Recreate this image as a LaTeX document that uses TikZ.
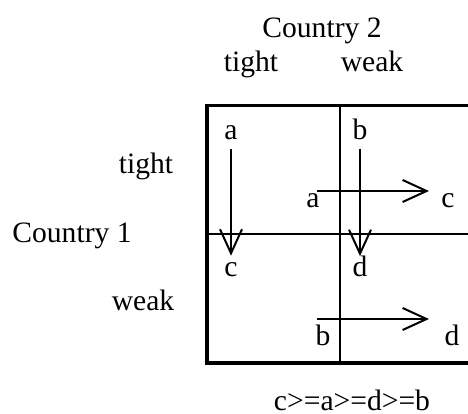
\documentclass[tikz,border=0pt]{standalone}
\usepackage{fontspec}
\setmainfont{Liberation Serif}
\usetikzlibrary{arrows.meta,positioning}
\tikzset{
  cell/.style       = {draw, line width=1pt, minimum height=64pt, inner sep=0pt},
  frame/.style      = {draw, line width=1.5pt},
  move/.style       = {-{Straight Barb[length=12pt, width=11pt]}, line width=1pt},
  lbl/.style        = {inner sep=0pt, anchor=base},
  every node/.style = {font=\fontsize{14.8}{17}\selectfont},
}
\begin{document}
\begin{tikzpicture}[x=0.5pt, y=-0.5pt]
  \useasboundingbox (0,0) rectangle (468,414);
  % payoff cells
  \node[cell, minimum width=66pt] (tt) at (274,170) {};
  \node[cell, minimum width=65pt] (tw) at (405,170) {};
  \node[cell, minimum width=66pt] (wt) at (274,298) {};
  \node[cell, minimum width=65pt] (ww) at (405,298) {};
  \draw[frame] (tt.north west) rectangle (ww.south east);
  % headings
  \node[lbl] (ctry2) at (322,37) {Country 2};
  \node[lbl] (ctry2t) at (251,71) {tight};
  \node[lbl] (ctry2w) at (372,71) {weak};
  \node[lbl] (ctry1t) at (146,173) {tight};
  \node[lbl] (ctry1) at (72,242) {Country 1};
  \node[lbl] (ctry1w) at (143,310) {weak};
  % outcomes
  \node[lbl] (tta) at (231,139) {a};
  \node[lbl] (twb) at (360,139) {b};
  \node[lbl] (wtc) at (231,276) {c};
  \node[lbl] (wwd) at (360,276) {d};
  \node[lbl] (tta2) at (313,207) {a};
  \node[lbl] (twc) at (448,207) {c};
  \node[lbl] (wtb) at (323,345) {b};
  \node[lbl] (wwd2) at (452,345) {d};
  \coordinate (up0) at (317,191);
  \coordinate (up1) at (429,191);
  \coordinate (lo0) at (317,319);
  \coordinate (lo1) at (429,319);
  \draw[move, shorten <=4.5pt, shorten >=3pt] (tta) -- (wtc);
  \draw[move, shorten <=4.5pt, shorten >=-0.5pt] (twb) -- (wwd);
  \draw[move] (up0) -- (up1);
  \draw[move] (lo0) -- (lo1);
  \node[lbl] (order) at (352,410) {c>=a>=d>=b};
\end{tikzpicture}
\end{document}
